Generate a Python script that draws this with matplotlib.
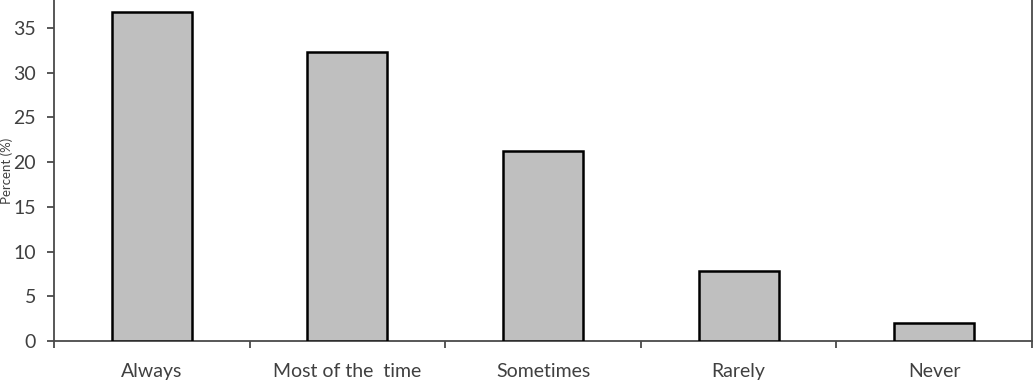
import matplotlib
matplotlib.use("Agg")
import matplotlib.pyplot as plt
import numpy as np
from matplotlib.ticker import FixedLocator

categories = ["Always", "Most of the  time", "Sometimes", "Rarely", "Never"]
values = [36.8, 32.3, 21.2, 7.8, 2.0]
yticks = [0, 5, 10, 15, 20, 25, 30, 35]

plt.rcParams['font.family'] = ['Lato', 'DejaVu Sans']

W, H = 1033, 392
fig = plt.figure(figsize=(W / 100, H / 100), dpi=100)
ax = fig.add_axes([54 / W, 51 / H, 978 / W, 1 - 51 / H])

x = np.arange(len(categories))
ax.bar(x, values, width=0.41, color="#bfbfbf", edgecolor="black", linewidth=1.8, zorder=3)

ax.set_xlim(-0.5, len(categories) - 0.5)
ax.set_ylim(0, 38.13)
ax.set_yticks(yticks)
ax.set_xticks(x)
ax.set_xticklabels(categories)
ax.xaxis.set_minor_locator(FixedLocator(np.arange(-0.5, len(categories), 1.0)))

axis_color = "#4a4a4a"
text_color = "#404040"
for s in ["left", "bottom", "right"]:
    ax.spines[s].set_color(axis_color)
    ax.spines[s].set_linewidth(1.3)
ax.spines["top"].set_visible(False)

ax.tick_params(axis="x", which="major", length=0, pad=16, labelsize=14, labelcolor=text_color)
ax.tick_params(axis="x", which="minor", length=5, width=1.3, color=axis_color, direction="out")
ax.tick_params(axis="y", length=5, width=1.3, color=axis_color, direction="out",
               labelsize=14, labelcolor=text_color, pad=8)

ax.set_ylabel("Percent (%)", fontsize=9.5, color=text_color)
ax.yaxis.set_label_coords(-0.0418, 0.5)

fig.savefig("out.png", dpi=100)
